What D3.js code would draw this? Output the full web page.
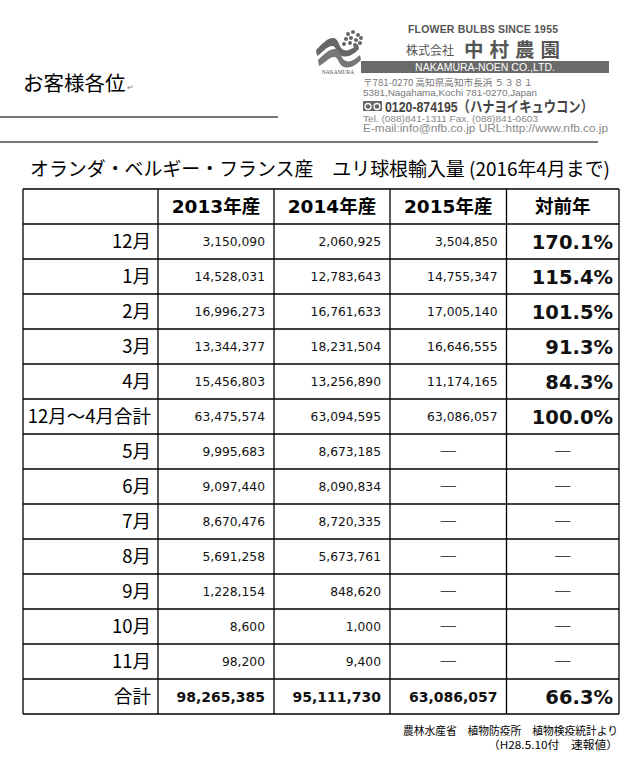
<!DOCTYPE html>
<html>
<head>
<meta charset="utf-8">
<script src="https://cdn.jsdelivr.net/npm/d3@7"></script>
<style>
  body { margin: 0; background: #fff; }
  svg { display: block; }
</style>
</head>
<body>
<div id="sheet"></div>
<script>
// -------------------------------
// 1) Data
// -------------------------------
const rowLabels = ["12月", "1月", "2月", "3月", "4月", "12月～4月合計", "5月", "6月", "7月", "8月", "9月", "10月", "11月", "合計"];
const colHeaders = ["2013年産", "2014年産", "2015年産", "対前年"];

const crop2013 = [3150090, 14528031, 16996273, 13344377, 15456803, 63475574, 9995683, 9097440, 8670476, 5691258, 1228154, 8600, 98200, 98265385];
const crop2014 = [2060925, 12783643, 16761633, 18231504, 13256890, 63094595, 8673185, 8090834, 8720335, 5673761, 848620, 1000, 9400, 95111730];
const crop2015 = [3504850, 14755347, 17005140, 16646555, 11174165, 63086057, null, null, null, null, null, null, null, 63086057];
const ratioPrev = [170.1, 115.4, 101.5, 91.3, 84.3, 100.0, null, null, null, null, null, null, null, 66.3];

const titleText = "オランダ・ベルギー・フランス産　ユリ球根輸入量 (2016年4月まで)";
const sourceLines = ["農林水産省　植物防疫所　植物検疫統計より", "（H28.5.10付　速報値）"];

// -------------------------------
// 2) Layout
// -------------------------------
const width = 630, height = 767;
const jp = "'Noto Sans CJK JP', sans-serif";
const latin = "'DejaVu Sans', 'Noto Sans CJK JP', sans-serif";
const arial = "'Liberation Sans', 'Noto Sans CJK JP', sans-serif";
const gray = "#555";

const svg = d3.select("#sheet").append("svg")
  .attr("width", width)
  .attr("height", height);

// column edges of the table
const colKeys = ["label", "c2013", "c2014", "c2015", "ratio", "end"];
const colEdge = d3.scaleOrdinal()
  .domain(colKeys)
  .range([23, 158, 274, 390, 506.5, 619]);

const rowScale = d3.scaleBand()
  .domain(["header"].concat(rowLabels))
  .range([189, 714]);

const fmtNum = d3.format(",");
const fmtPct = d => d3.format(".1f")(d) + "%";

// -------------------------------
// 3) Letterhead
// -------------------------------
svg.append("text")
  .attr("x", 23).attr("y", 91)
  .attr("font-family", jp).attr("font-size", 20.5)
  .text("お客様各位");
svg.append("text")
  .attr("x", 127).attr("y", 90)
  .attr("font-family", jp).attr("font-size", 8).attr("fill", "#888")
  .text("↵");

svg.append("line")
  .attr("x1", 0).attr("x2", 278).attr("y1", 117).attr("y2", 117)
  .attr("stroke", "#777").attr("stroke-width", 1.8);
svg.append("line")
  .attr("x1", 0).attr("x2", 598).attr("y1", 142).attr("y2", 142)
  .attr("stroke", "#777").attr("stroke-width", 1.8);

const card = svg.append("g");

// emblem: ribbon + flower
card.append("path")
  .attr("d", "M316,50 C322,44 328,37 334,38 C340,40 338,48 344,50 C349,52 354,47 358,44 L359,49 C354,54 348,58 342,56 C336,54 337,46 332,46 C327,46 322,53 317,56 Z")
  .attr("fill", "#666");
card.append("path")
  .attr("d", "M318,60 C324,54 330,48 336,49 C342,51 340,59 346,61 C351,63 356,58 360,55 L361,60 C356,65 350,69 344,67 C338,65 339,57 334,57 C329,57 324,64 319,66 Z")
  .attr("fill", "#777");
const petals = [[348, 34], [353, 32], [358, 35], [346, 39], [351, 38], [356, 40], [361, 38], [350, 43], [355, 45], [360, 43], [344, 44]];
card.selectAll("circle.petal").data(petals).join("circle")
  .attr("class", "petal")
  .attr("cx", d => d[0]).attr("cy", d => d[1]).attr("r", 2)
  .attr("fill", "#666");
card.append("text")
  .attr("x", 338).attr("y", 74).attr("text-anchor", "middle")
  .attr("font-family", "'Liberation Serif', serif").attr("font-size", 5.5).attr("fill", gray)
  .text("NAKAMURA");

card.append("text")
  .attr("x", 408).attr("y", 33)
  .attr("font-family", arial).attr("font-weight", "bold")
  .attr("font-size", 10.5).attr("fill", gray)
  .attr("textLength", 150).attr("lengthAdjust", "spacing")
  .text("FLOWER BULBS SINCE 1955");
card.append("text")
  .attr("x", 406).attr("y", 55)
  .attr("font-family", jp).attr("font-size", 12).attr("fill", gray)
  .text("株式会社");
card.append("text")
  .attr("x", 464).attr("y", 57)
  .attr("font-family", jp).attr("font-weight", "bold").attr("font-size", 19.5)
  .attr("textLength", 96).attr("lengthAdjust", "spacing").attr("fill", gray)
  .text("中村農園");
card.append("rect")
  .attr("x", 361).attr("y", 61).attr("width", 248).attr("height", 12)
  .attr("fill", "#6a6a6a");
card.append("text")
  .attr("x", 485).attr("y", 71).attr("text-anchor", "middle")
  .attr("font-family", arial).attr("font-size", 10.5).attr("fill", "#fff")
  .text("NAKAMURA-NOEN  CO.,LTD.");
card.append("text")
  .attr("x", 363).attr("y", 85.5)
  .attr("font-family", jp).attr("font-size", 9.5).attr("fill", "#777")
  .attr("textLength", 170).attr("lengthAdjust", "spacingAndGlyphs")
  .text("〒781-0270  高知県高知市長浜  ５３８１");
card.append("text")
  .attr("x", 363).attr("y", 96)
  .attr("font-family", arial).attr("font-size", 9.5).attr("fill", "#777")
  .attr("textLength", 174).attr("lengthAdjust", "spacingAndGlyphs")
  .text("5381,Nagahama,Kochi 781-0270,Japan");

// free dial mark
card.append("rect")
  .attr("x", 363).attr("y", 101).attr("width", 19).attr("height", 10).attr("rx", 1)
  .attr("fill", "#666");
card.selectAll("circle.dial").data([368, 377]).join("circle")
  .attr("class", "dial")
  .attr("cx", d => d).attr("cy", 106.5).attr("r", 3)
  .attr("fill", "none").attr("stroke", "#fff").attr("stroke-width", 1.3);
card.append("text")
  .attr("x", 385).attr("y", 111.5)
  .attr("font-family", arial).attr("font-weight", "bold")
  .attr("font-size", 15).attr("fill", "#444")
  .attr("textLength", 208).attr("lengthAdjust", "spacingAndGlyphs")
  .text("0120-874195（ハナヨイキュウコン）");
card.append("text")
  .attr("x", 363).attr("y", 122)
  .attr("font-family", arial).attr("font-size", 9.5).attr("fill", "#888")
  .attr("textLength", 175).attr("lengthAdjust", "spacingAndGlyphs")
  .text("Tel. (088)841-1311   Fax. (088)841-0603");
card.append("text")
  .attr("x", 363).attr("y", 132)
  .attr("font-family", arial).attr("font-size", 10).attr("fill", "#888")
  .attr("textLength", 245).attr("lengthAdjust", "spacingAndGlyphs")
  .text("E-mail:info@nfb.co.jp   URL:http://www.nfb.co.jp");

// -------------------------------
// 4) Title
// -------------------------------
svg.append("text")
  .attr("x", 30).attr("y", 176)
  .attr("font-family", jp).attr("font-size", 19)
  .attr("textLength", 580).attr("lengthAdjust", "spacingAndGlyphs")
  .text(titleText);

// -------------------------------
// 5) Table grid
// -------------------------------
const grid = svg.append("g")
  .attr("stroke", "#000").attr("stroke-width", 1.3);

grid.selectAll("line.h")
  .data(rowScale.domain().map(r => rowScale(r)).concat([rowScale.range()[1]]))
  .join("line")
  .attr("class", "h")
  .attr("x1", colEdge("label")).attr("x2", colEdge("end"))
  .attr("y1", d => d).attr("y2", d => d);

grid.selectAll("line.v")
  .data(colKeys)
  .join("line")
  .attr("class", "v")
  .attr("x1", d => colEdge(d)).attr("x2", d => colEdge(d))
  .attr("y1", rowScale.range()[0]).attr("y2", rowScale.range()[1]);

const mid = r => rowScale(r) + rowScale.bandwidth() / 2;
const colMid = i => (colEdge(colKeys[i + 1]) + colEdge(colKeys[i + 2])) / 2;
const colRight = i => colEdge(colKeys[i + 2]);

// header
svg.selectAll("text.head")
  .data(colHeaders)
  .join("text")
  .attr("class", "head")
  .attr("x", (d, i) => colMid(i))
  .attr("y", mid("header"))
  .attr("dy", "0.36em")
  .attr("text-anchor", "middle")
  .attr("font-family", latin).attr("font-weight", "bold").attr("font-size", 18.5)
  .text(d => d);

// row labels
svg.selectAll("text.rowlab")
  .data(rowLabels)
  .join("text")
  .attr("class", "rowlab")
  .attr("x", colEdge("c2013") - 7)
  .attr("y", d => mid(d))
  .attr("dy", "0.37em")
  .attr("text-anchor", "end")
  .attr("font-family", jp).attr("font-size", 18.5)
  .text(d => d);

// numeric columns
const last = rowLabels.length - 1;
[crop2013, crop2014, crop2015].forEach((series, ci) => {
  svg.append("g").selectAll("text")
    .data(series)
    .join("text")
    .attr("x", d => d == null ? colMid(ci) : colRight(ci) - 9)
    .attr("y", (d, i) => mid(rowLabels[i]))
    .attr("dy", "0.36em")
    .attr("text-anchor", d => d == null ? "middle" : "end")
    .attr("font-family", d => d == null ? jp : latin)
    .attr("font-weight", (d, i) => i === last ? "bold" : "normal")
    .attr("font-size", (d, i) => d == null ? 18 : (i === last ? 14 : 12.3))
    .attr("fill", "#111")
    .text(d => d == null ? "―" : fmtNum(d));
});

// ratio column
svg.append("g").selectAll("text")
  .data(ratioPrev)
  .join("text")
  .attr("x", d => d == null ? colMid(3) : colRight(3) - 6)
  .attr("y", (d, i) => mid(rowLabels[i]))
  .attr("dy", "0.36em")
  .attr("text-anchor", d => d == null ? "middle" : "end")
  .attr("font-family", d => d == null ? jp : latin)
  .attr("font-weight", d => d == null ? "normal" : "bold")
  .attr("font-size", d => d == null ? 18 : 19.5)
  .attr("fill", "#111")
  .text(d => d == null ? "―" : fmtPct(d));

// -------------------------------
// 6) Source note
// -------------------------------
svg.selectAll("text.source")
  .data(sourceLines)
  .join("text")
  .attr("class", "source")
  .attr("x", 618)
  .attr("y", (d, i) => 735 + i * 14)
  .attr("text-anchor", "end")
  .attr("font-family", jp).attr("font-size", 11)
  .attr("textLength", (d, i) => i === 0 ? 215 : 130)
  .attr("lengthAdjust", "spacingAndGlyphs")
  .text(d => d);
</script>
</body>
</html>
